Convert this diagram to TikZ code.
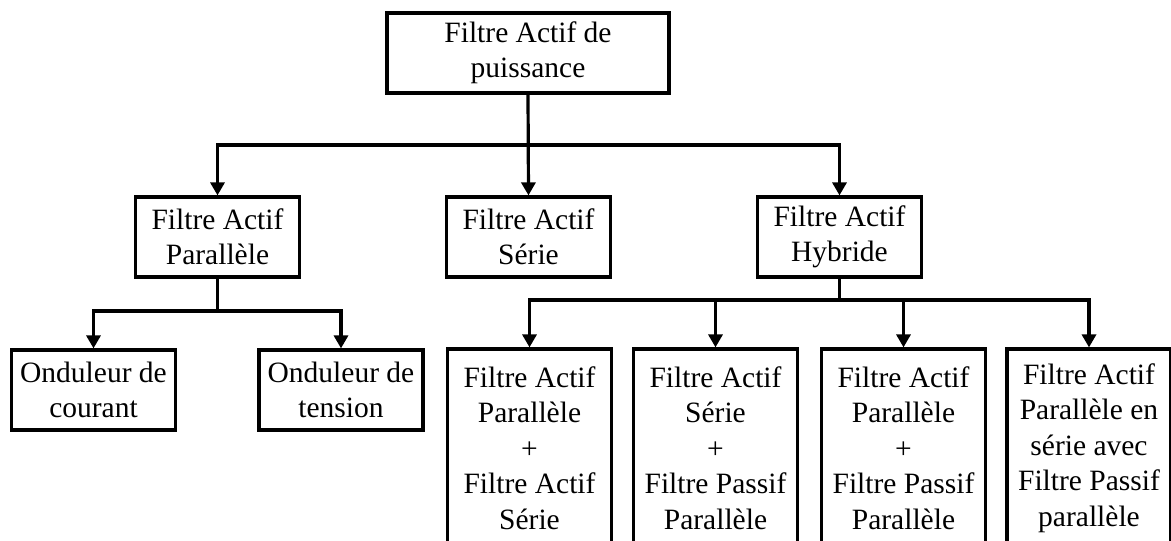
\documentclass[tikz,border=0pt]{standalone}
\usepackage{fontspec}
\setmainfont{Liberation Serif}
\usepackage{tikz}
\usetikzlibrary{arrows.meta, positioning, calc}

\begin{document}
\begin{tikzpicture}[x=1pt, y=1pt,
  box/.style={draw=black, line width=3.2pt, fill=white, align=center,
              minimum width=164pt, minimum height=80pt, inner sep=0pt,
              font=\fontsize{29.5}{35.5}\selectfont},
  tall/.style={box, minimum height=198pt},
  arr/.style={-{Triangle[length=13pt, width=14pt]}, line width=3.2pt},
  link/.style={line width=3.2pt}
]
  \useasboundingbox (0,0) rectangle (1171,-541);

  \node[box, minimum width=282pt] (puis) at (528,-53) {Filtre Actif de\\puissance};

  \node[box] (par) at (217.5,-237) {Filtre Actif\\Parallèle};
  \node[box] (ser) at (528.5,-237) {Filtre Actif\\Série};
  \node[box] (hyb) at (839.5,-237) {Filtre Actif\\Hybride};

  \node[box] (ondc) at (93.5,-390) {Onduleur de\\courant};
  \node[box] (ondt) at (341,-390) {Onduleur de\\tension};

  \node[tall] (h1) at (529.5,-448) {Filtre Actif\\Parallèle\\+\\Filtre Actif\\Série};
  \node[tall] (h2) at (715.5,-448) {Filtre Actif\\Série\\+\\Filtre Passif\\Parallèle};
  \node[tall] (h3) at (903.5,-448) {Filtre Actif\\Parallèle\\+\\Filtre Passif\\Parallèle};
  \node[tall] (h4) at (1089,-448) {Filtre Actif\\Parallèle en\\série avec\\Filtre Passif\\parallèle};

  % branch points
  \coordinate (b1) at (puis.south |- 0,-145);
  \coordinate (b2) at (par.south |- 0,-311);
  \coordinate (b3) at (hyb.south |- 0,-300);

  \draw[arr] (puis.south) -- (ser.north);
  \draw[arr] (b1) -| (par.north);
  \draw[arr] (b1) -| (hyb.north);

  \draw[link] (par.south) -- (b2);
  \draw[arr] (b2) -| (ondc.north);
  \draw[arr] (b2) -| (ondt.north);

  \draw[link] (hyb.south) -- (b3);
  \draw[arr] (b3) -| (h1.north);
  \draw[arr] (b3) -| (h2.north);
  \draw[arr] (b3) -| (h3.north);
  \draw[arr] (b3) -| (h4.north);
\end{tikzpicture}
\end{document}
